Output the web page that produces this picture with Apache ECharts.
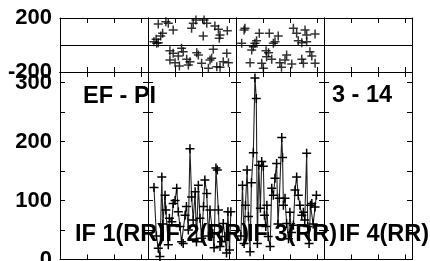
<!DOCTYPE html>
<html>
<head>
<meta charset="utf-8">
<script src="https://cdn.jsdelivr.net/npm/echarts@6/dist/echarts.min.js"></script>
<style>
  html, body { margin: 0; padding: 0; background: #fff; }
  #chart { width: 430px; height: 261px; }
</style>
</head>
<body>
<div id="chart"></div>
<script>
// panel x is in seconds inside each panel (ticks at 1, 2, 3)
const panelTitles = ["IF 1(RR)", "IF 2(RR)", "IF 3(RR)", "IF 4(RR)"];
const topTicks = [-200, 200];
const bottomTicks = [0, 100, 200, 300];

// top row, scatter (panel 2 and 3)
const top2 = [
  [0.38, 156], [0.66, 173], [0.75, 161], [0.93, 111], [0.54, 87], [0.47, 67],
  [0.30, 42], [0.22, 24], [0.38, 17], [0.32, 13], [1.67, 161], [1.77, 185],
  [2.07, 185], [2.17, 161], [1.61, 124], [2.47, 141], [2.60, 116], [2.93, 106],
  [2.66, 74], [2.04, 67], [2.63, 50],
  [0.81, -42], [0.93, -61], [1.24, -24], [1.30, -50], [1.12, -81], [0.81, -111],
  [1.43, -106], [1.55, -124], [1.00, -131], [1.16, -156], [1.49, -148], [1.80, -57],
  [1.86, -74], [1.98, -136], [2.29, -111], [2.41, -32], [2.35, -99], [2.23, -173],
  [2.54, -161], [2.91, -61], [2.78, -124], [2.97, -131], [2.66, -165]
];
const top3 = [
  [0.33, 124], [0.30, 111], [0.86, 87], [1.23, 87], [1.56, 67], [0.21, 13],
  [0.70, 13], [0.76, 32], [1.38, 13], [1.44, 24], [2.12, 124], [2.24, 87],
  [2.55, 111], [2.61, 74], [2.92, 81], [2.30, 32], [2.43, 17], [2.61, 24],
  [0.64, -13], [0.58, -37], [1.11, -42], [1.20, -57], [1.13, -87], [0.52, -131],
  [0.95, -136], [1.01, -173], [1.32, -106], [1.62, -131], [1.68, -165], [1.87, -74],
  [1.81, -111], [2.06, -141], [2.43, -106], [2.73, -50], [2.80, -81], [2.92, -136],
  [2.49, -136]
];

// bottom row, line (panel 2 and 3)
const bottom2 = [
  [0.22, 122], [0.31, 40], [0.38, 19], [0.44, 5], [0.51, 140], [0.55, 60],
  [0.63, 109], [0.66, 84], [0.75, 25], [0.79, 70], [0.88, 64], [0.93, 95],
  [1.00, 100], [1.06, 121], [1.12, 81], [1.18, 56], [1.24, 30], [1.30, 27],
  [1.37, 75], [1.42, 90], [1.49, 50], [1.55, 188], [1.61, 106], [1.67, 67],
  [1.74, 115], [1.79, 30], [1.86, 126], [1.92, 70], [1.98, 36], [2.05, 90],
  [2.10, 135], [2.17, 112], [2.23, 40], [2.29, 84], [2.39, 44], [2.44, 20],
  [2.51, 155], [2.56, 152], [2.60, 84], [2.66, 22], [2.72, 30], [2.78, 61],
  [2.84, 39], [2.90, 11], [2.95, 81], [3.01, 16], [3.06, 81]
];
const bottom3 = [
  [0.18, 40], [0.24, 126], [0.30, 27], [0.35, 92], [0.41, 152], [0.46, 73],
  [0.52, 13], [0.57, 130], [0.64, 181], [0.70, 308], [0.75, 273], [0.79, 27],
  [0.84, 160], [0.90, 87], [0.95, 166], [1.01, 158], [1.05, 75], [1.10, 56],
  [1.14, 92], [1.19, 39], [1.26, 22], [1.32, 121], [1.38, 109], [1.44, 138],
  [1.50, 163], [1.55, 60], [1.60, 104], [1.69, 207], [1.72, 173], [1.75, 92],
  [1.81, 104], [1.87, 61], [1.94, 35], [1.99, 80], [2.05, 46], [2.12, 58],
  [2.18, 118], [2.24, 140], [2.30, 109], [2.36, 92], [2.43, 75], [2.49, 80],
  [2.54, 67], [2.61, 180], [2.65, 56], [2.70, 27], [2.75, 92], [2.80, 95],
  [2.85, 60], [2.92, 89], [2.97, 109]
];

const panelLeft = [60, 148, 236, 324];
const panelWidth = 88;
// plus marker, filled so the arms stay crisp
const plus = "path://M3.75,0h1.5v3.75h3.75v1.5h-3.75v3.75h-1.5v-3.75h-3.75v-1.5h3.75z";
const labelFont = {
  color: "#000",
  fontFamily: "Liberation Sans, Arial, sans-serif",
  fontWeight: "bold",
  fontSize: 22,
};

const chart = echarts.init(document.getElementById("chart"));

const grid = [];
const xAxis = [];
const yAxis = [];
const rows = [
  { top: 18, height: 54, min: -200, max: 200, interval: 200, ticks: topTicks },
  { top: 72, height: 187.5, min: 0, max: 318, interval: 50, ticks: bottomTicks },
];

rows.forEach((row, r) => {
  panelLeft.forEach((left, p) => {
    const g = r * 4 + p;
    grid.push({
      left: left,
      top: row.top,
      width: panelWidth,
      height: row.height,
      outerBoundsMode: "none",
    });
    ["bottom", "top"].forEach((pos) => {
      xAxis.push({
        gridIndex: g,
        type: "value",
        position: pos,
        min: 0,
        max: 3.25,
        interval: 1,
        axisLine: { onZero: false, lineStyle: { color: "#000", width: 1 } },
        axisTick: { inside: true, length: 5, lineStyle: { color: "#000" } },
        axisLabel: { show: false },
        splitLine: { show: false },
      });
    });
    ["left", "right"].forEach((pos) => {
      const showLabel = p === 0 && pos === "left";
      yAxis.push({
        gridIndex: g,
        type: "value",
        position: pos,
        min: row.min,
        max: row.max,
        interval: row.interval,
        axisLine: { show: true, onZero: false, lineStyle: { color: "#000", width: 1 } },
        axisTick: {
          show: r === 1,
          inside: true,
          length: 5,
          lineStyle: { color: "#000" },
        },
        axisLabel: {
          show: showLabel,
          margin: 8,
          ...labelFont,
          showMaxLabel: true,
          formatter: (v) => (row.ticks.indexOf(v) >= 0 ? String(v) : ""),
        },
        splitLine: {
          show: r === 0 && pos === "left",
          lineStyle: { color: "#000", width: 1 },
        },
      });
    });
  });
});

function scatterSeries(g, data) {
  return {
    type: "scatter",
    xAxisIndex: g * 2,
    yAxisIndex: g * 2,
    symbol: plus,
    symbolSize: 9,
    itemStyle: { color: "#000" },
    data: data,
  };
}

function lineSeries(g, data) {
  return {
    type: "line",
    xAxisIndex: g * 2,
    yAxisIndex: g * 2,
    symbol: plus,
    symbolSize: 9,
    showSymbol: true,
    itemStyle: { color: "#000" },
    lineStyle: { color: "#222", width: 1.1 },
    data: data,
  };
}

const titleFont = "bold 23.5px 'Liberation Sans', Arial, sans-serif";
const textItems = [
  { text: "EF - PI", x: 83, y: 96.5 },
  { text: "3 - 14", x: 332, y: 96 },
  { text: panelTitles[0], x: 75, y: 235 },
  { text: panelTitles[1], x: 159, y: 235 },
  { text: panelTitles[2], x: 247, y: 235 },
  { text: panelTitles[3], x: 339, y: 235 },
];

chart.setOption({
  animation: false,
  backgroundColor: "#fff",
  grid,
  xAxis,
  yAxis,
  series: [
    scatterSeries(1, top2),
    scatterSeries(2, top3),
    lineSeries(5, bottom2),
    lineSeries(6, bottom3),
  ],
  graphic: textItems.map((t) => ({
    type: "text",
    z: 100,
    style: {
      text: t.text,
      x: t.x,
      y: t.y,
      font: titleFont,
      fill: "#000",
      align: "left",
      verticalAlign: "middle",
    },
  })),
});
</script>
</body>
</html>
